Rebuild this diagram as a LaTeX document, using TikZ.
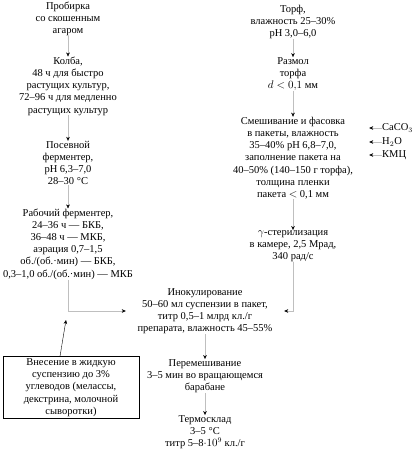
\documentclass[tikz,border=0pt]{standalone}
\usepackage{fontspec}
\setmainfont{Liberation Serif}
\usetikzlibrary{positioning, arrows.meta, calc}

\begin{document}
\begin{tikzpicture}[
    x=1pt, y=-1pt,
    stage/.style={align=center, font=\fontsize{10.5}{12.2}\selectfont, inner sep=0pt},
    additive/.style={anchor=west, font=\fontsize{10.5}{12}\selectfont, inner sep=0pt},
    note/.style={rectangle, draw=black, thin, align=center, font=\fontsize{10.5}{12.2}\selectfont, minimum width=136pt, minimum height=61pt, inner sep=2pt},
    arr/.style={-{Stealth[length=4pt, width=3.5pt, black]}, draw=black!25, line width=0.3pt}
]
    \useasboundingbox (0,0) rectangle (418,461);

    % left branch: culture
    \node[stage] (tube) at (68,19) {Пробирка\\со скошенным\\агаром};
    \node[stage] (flask) at (68,86) {Колба,\\48 ч для быстро\\растущих культур,\\72–96 ч для медленно\\растущих культур};
    \node[stage] (seed) at (68,163) {Посевной\\ферментер,\\рН 6,3–7,0\\28–30 °С};
    \node[stage] (work) at (68,244) {Рабочий ферментер,\\24–36 ч — БКБ,\\36–48 ч — МКБ,\\аэрация 0,7–1,5\\об./(об.·мин) — БКБ,\\0,3–1,0 об./(об.·мин) — МКБ};

    % right branch: carrier
    \node[stage] (peat) at (293,22) {Торф,\\влажность 25–30\%\\рН 3,0–6,0};
    \node[stage] (mill) at (293,74) {Размол\\торфа\\$d<0{,}1$ мм};
    \node[stage, minimum width=152pt] (mix) at (293,158) {Смешивание и фасовка\\в пакеты, влажность\\35–40\% рН 6,8–7,0,\\заполнение пакета на\\40–50\% (140–150 г торфа),\\толщина пленки\\пакета $<$ 0,1 мм};
    \node[stage] (ster) at (293,246) {$\gamma$-стерилизация\\в камере, 2,5 Мрад,\\340 рад/с};

    \node[additive] (caco) at (382,128) {CaCO$_3$};
    \node[additive] (water) at (382,142) {H$_2$O};
    \node[additive] (cmc) at (382,155) {КМЦ};

    % common part
    \node[stage, minimum width=158pt] (inoc) at (205,311) {Инокулирование\\50–60 мл суспензии в пакет,\\титр 0,5–1 млрд кл./г\\препарата, влажность 45–55\%};
    \node[stage] (stir) at (205,376) {Перемешивание\\3–5 мин во вращающемся\\барабане};
    \node[stage] (store) at (205,432) {Термосклад\\3–5 °С\\титр 5–8$\cdot10^9$ кл./г};

    \node[note] (carb) at (71,387.5) {Внесение в жидкую\\суспензию до 3\%\\углеводов (мелассы,\\декстрина, молочной\\сыворотки)};
    \coordinate (feed) at (66,320);

    \draw[arr] (tube) -- (flask);
    \draw[arr] (flask) -- (seed);
    \draw[arr] (seed) -- (work);
    \draw[arr] (work.south) |- (inoc.west);

    \draw[arr] (peat) -- (mill);
    \draw[arr] (mill) -- (mix);
    \draw[arr] (mix) -- (ster);
    \draw[arr] (ster.south) |- (inoc.east);
    \draw[arr] (caco.west) -- (caco.west -| mix.east);
    \draw[arr] (water.west) -- (water.west -| mix.east);
    \draw[arr] (cmc.west) -- (cmc.west -| mix.east);

    \draw[arr] (inoc) -- (stir);
    \draw[arr] (stir) -- (store);

    \draw[-{Stealth[length=4pt, width=3.5pt]}, thin] ([xshift=-11pt]carb.north) -- (feed);
\end{tikzpicture}
\end{document}
